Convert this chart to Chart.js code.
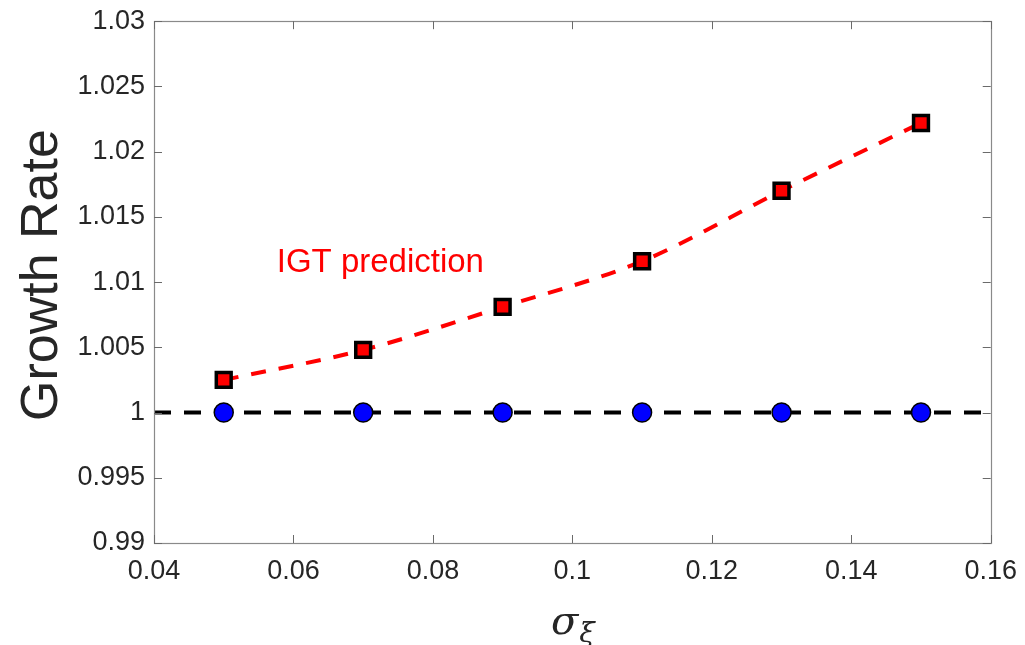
<!DOCTYPE html>
<html>
<head>
<meta charset="utf-8">
<script src="https://cdn.jsdelivr.net/npm/chart.js@4.4.1/dist/chart.umd.min.js"></script>
<style>
  html, body { margin: 0; padding: 0; background: #ffffff; overflow: hidden; }
  #wrap { width: 1025px; height: 645px; position: relative; overflow: hidden; }
  #c { position: absolute; left: 0; top: -4px; }
</style>
</head>
<body>
<div id="wrap"><canvas id="c" width="1029" height="649"></canvas></div>
<script>
// ---- data ----
const sigmaValues = [0.05, 0.07, 0.09, 0.11, 0.13, 0.15];
const igtPrediction = [1.0025, 1.0048, 1.0081, 1.0116, 1.0170, 1.0222];
const simulated = [1.0, 1.0, 1.0, 1.0, 1.0, 1.0];
const refLineX = [0.04, 0.16];
const refLineY = [1.0, 1.0];
const xTicks = [0.04, 0.06, 0.08, 0.1, 0.12, 0.14, 0.16];
const yTicks = [0.99, 0.995, 1, 1.005, 1.01, 1.015, 1.02, 1.025, 1.03];
const yTitle = 'Growth Rate';
const xTitleMain = 'σ';
const xTitleSub = 'ξ';
const annotationText = 'IGT prediction';
const annotationPos = { x: 0.0576, y: 1.0108 };

const toPts = (xs, ys) => xs.map((x, i) => ({ x: x, y: ys[i] }));

const FONT = '"Liberation Sans", Arial, Helvetica, sans-serif';

const boxPlugin = {
  id: 'boxPlugin',
  afterDraw(chart) {
    const ctx = chart.ctx;
    const a = chart.chartArea;
    const xs = chart.scales.x, ys = chart.scales.y;
    ctx.save();
    ctx.strokeStyle = '#8a8a8a';
    ctx.lineWidth = 1.2;
    ctx.strokeRect(Math.round(a.left) + 0.5, Math.round(a.top) + 0.5,
                   Math.round(a.right - a.left), Math.round(a.bottom - a.top));
    ctx.strokeStyle = '#6a6a6a';
    ctx.lineWidth = 1;
    const L = 8;
    ctx.beginPath();
    xTicks.forEach(v => {
      const px = Math.round(xs.getPixelForValue(v)) + 0.5;
      ctx.moveTo(px, a.bottom); ctx.lineTo(px, a.bottom - L);
      ctx.moveTo(px, a.top); ctx.lineTo(px, a.top + L);
    });
    yTicks.forEach(v => {
      const py = Math.round(ys.getPixelForValue(v)) + 0.5;
      ctx.moveTo(a.left, py); ctx.lineTo(a.left + L, py);
      ctx.moveTo(a.right, py); ctx.lineTo(a.right - L, py);
    });
    ctx.stroke();

    ctx.fillStyle = '#ff0000';
    ctx.font = '33px ' + FONT;
    ctx.textAlign = 'left';
    ctx.textBaseline = 'alphabetic';
    ctx.fillText(annotationText, xs.getPixelForValue(annotationPos.x), ys.getPixelForValue(annotationPos.y));

    ctx.save();
    ctx.translate(57, (a.top + a.bottom) / 2 - 7);
    ctx.rotate(-Math.PI / 2);
    ctx.fillStyle = '#262626';
    ctx.font = '52px ' + FONT;
    ctx.textAlign = 'center';
    ctx.textBaseline = 'alphabetic';
    ctx.fillText(yTitle, 0, 0);
    ctx.restore();

    const cx = (a.left + a.right) / 2;
    ctx.fillStyle = '#262626';
    ctx.font = 'italic 40px "DejaVu Serif", "Liberation Serif", serif';
    ctx.textAlign = 'left';
    ctx.textBaseline = 'alphabetic';
    const wMain = ctx.measureText(xTitleMain).width;
    ctx.font = 'italic 28px "DejaVu Serif", "Liberation Serif", serif';
    const wSub = ctx.measureText(xTitleSub).width;
    const startX = cx - (wMain + wSub) / 2;
    ctx.font = 'italic 40px "DejaVu Serif", "Liberation Serif", serif';
    ctx.fillText(xTitleMain, startX, a.bottom + 91);
    ctx.font = 'italic 28px "DejaVu Serif", "Liberation Serif", serif';
    ctx.fillText(xTitleSub, startX + wMain + 1, a.bottom + 99);
    ctx.restore();
  }
};

const fmt = v => String(Number(v.toFixed(4)));

new Chart(document.getElementById('c'), {
  type: 'line',
  data: {
    datasets: [
      {
        label: 'IGT',
        data: toPts(sigmaValues, igtPrediction),
        borderColor: '#ff0000',
        borderWidth: 4,
        borderDash: [15, 13],
        cubicInterpolationMode: 'monotone',
        pointStyle: 'rect',
        pointRadius: 10.5,
        pointBorderWidth: 3.5,
        pointBackgroundColor: '#ff0000',
        pointBorderColor: '#000000',
        pointHoverRadius: 10.5,
        order: 1
      },
      {
        label: 'Simulated',
        data: toPts(sigmaValues, simulated),
        showLine: false,
        pointStyle: 'circle',
        pointRadius: 9.5,
        pointBorderWidth: 1.5,
        pointBackgroundColor: '#0000ff',
        pointBorderColor: '#000000',
        order: 2
      },
      {
        label: 'Reference',
        data: toPts(refLineX, refLineY),
        borderColor: '#000000',
        borderWidth: 4,
        borderDash: [17, 13],
        pointRadius: 0,
        order: 3
      }
    ]
  },
  options: {
    responsive: false,
    animation: false,
    clip: false,
    layout: { padding: { left: 0, right: 30, top: 17, bottom: 0 } },
    plugins: {
      legend: { display: false },
      tooltip: { enabled: false }
    },
    scales: {
      x: {
        type: 'linear',
        min: 0.04, max: 0.16,
        afterBuildTicks: s => { s.ticks = xTicks.map(v => ({ value: v })); },
        afterFit: s => { s.height = 649 - 547; },
        grid: { display: false, drawTicks: false },
        border: { display: false },
        ticks: {
          padding: 12,
          color: '#262626',
          font: { family: FONT, size: 27 },
          maxRotation: 0,
          callback: v => fmt(v)
        }
      },
      y: {
        type: 'linear',
        min: 0.99, max: 1.03,
        afterBuildTicks: s => { s.ticks = yTicks.map(v => ({ value: v })); },
        afterFit: s => { s.width = 154; },
        grid: { display: false, drawTicks: false },
        border: { display: false },
        ticks: {
          padding: 9,
          color: '#262626',
          font: { family: FONT, size: 27 },
          callback: v => fmt(v)
        }
      }
    }
  },
  plugins: [boxPlugin]
});
</script>
</body>
</html>
